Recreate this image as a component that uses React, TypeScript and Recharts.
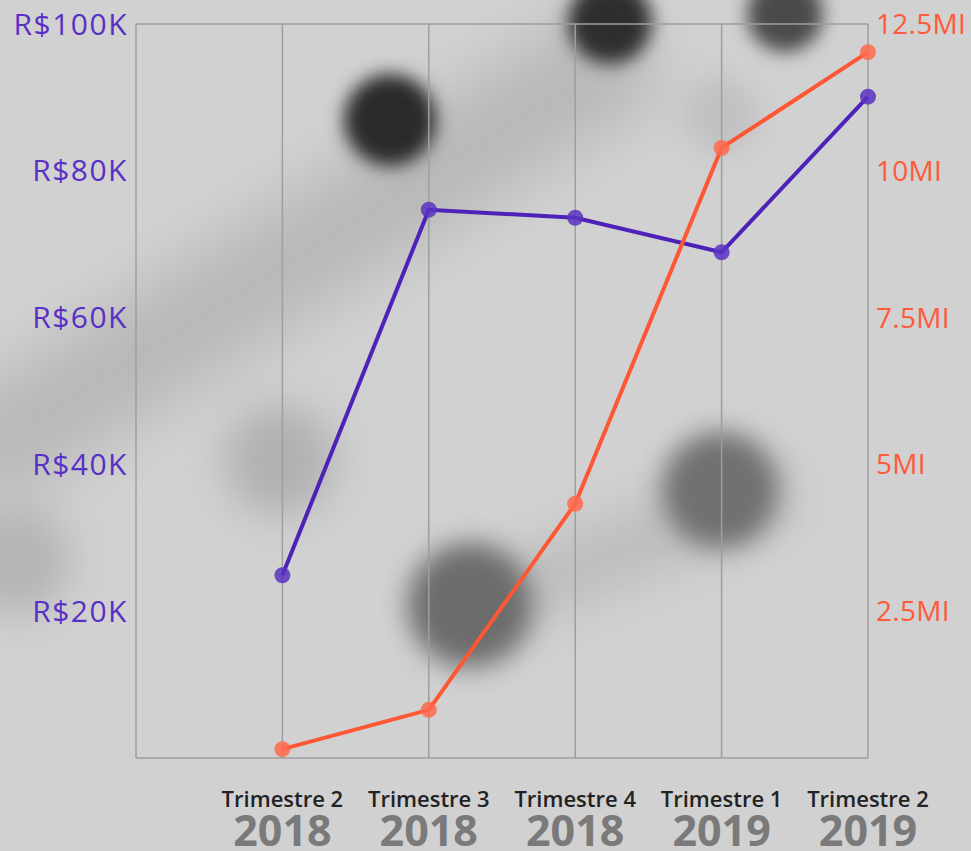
import React from "react";
import { LineChart, Line, XAxis, YAxis, CartesianGrid } from "recharts";

const quarters = ["Trimestre 2", "Trimestre 3", "Trimestre 4", "Trimestre 1", "Trimestre 2"];
const years = ["2018", "2018", "2018", "2019", "2019"];
const revenue = [24900, 74700, 73600, 68900, 90100]; // R$
const volume = [0.15, 0.82, 4.33, 10.39, 12.02]; // MI

const leftTicks = [0, 20000, 40000, 60000, 80000, 100000];
const rightTicks = [0, 2.5, 5, 7.5, 10, 12.5];
const xTicks = [0, 1, 2, 3, 4, 5];

const PURPLE = "#4e22b9";
const ORANGE = "#ff5634";
const FONT = "'Open Sans', 'DejaVu Sans', sans-serif";

const data = quarters.map((q, i) => ({
  x: i + 1,
  quarter: q,
  year: years[i],
  revenue: revenue[i],
  volume: volume[i],
}));

const blobs = [
  { x: 390, y: 120, r: 46, c: "#2a2a2a", b: 9 },
  { x: 610, y: 22, r: 42, c: "#2e2e2e", b: 9 },
  { x: 785, y: 14, r: 38, c: "#4a4a4a", b: 9 },
  { x: 720, y: 490, r: 58, c: "#707070", b: 13 },
  { x: 470, y: 605, r: 62, c: "#6c6c6c", b: 13 },
  { x: 280, y: 460, r: 55, c: "#b0b0b0", b: 20 },
  { x: 15, y: 560, r: 55, c: "#b4b4b4", b: 20 },
  { x: 720, y: 115, r: 38, c: "#c0c0c0", b: 14 },
];

function XTick(props: any) {
  const { x, y, payload } = props;
  const i = payload.value - 1;
  if (i < 0 || i >= quarters.length) return null;
  return (
    <g>
      <text x={x} y={y + 41} textAnchor="middle" fontFamily={FONT} fontSize={22} fontWeight={600} fill="#222">
        {quarters[i]}
      </text>
      <text x={x} y={y + 80} textAnchor="middle" fontFamily={FONT} fontSize={43} fontWeight={700} fill="#7a7a7a">
        {years[i]}
      </text>
    </g>
  );
}

const fmtLeft = (v: number) => (v === 0 ? "" : `R$${v / 1000}K`);
const fmtRight = (v: number) => (v === 0 ? "" : `${v}MI`);

export default function App() {
  return (
    <div
      style={{
        position: "fixed",
        left: 0,
        top: 0,
        width: 971,
        height: 851,
        overflow: "hidden",
        background: "#d1d1d1",
      }}
    >
      <div
        style={{
          position: "absolute",
          left: -100,
          top: 200,
          width: 800,
          height: 110,
          background: "#b8b8b8",
          filter: "blur(30px)",
          transform: "rotate(-32deg)",
        }}
      />
      <div
        style={{
          position: "absolute",
          left: 420,
          top: 520,
          width: 380,
          height: 70,
          background: "#bdbdbd",
          filter: "blur(25px)",
          transform: "rotate(-22deg)",
        }}
      />
      {blobs.map((b, i) => (
        <div
          key={i}
          style={{
            position: "absolute",
            left: b.x - b.r,
            top: b.y - b.r,
            width: b.r * 2,
            height: b.r * 2,
            borderRadius: "50%",
            background: b.c,
            filter: `blur(${b.b}px)`,
          }}
        />
      ))}
      <div style={{ position: "absolute", left: 0, top: 0 }}>
        <LineChart width={971} height={851} data={data} margin={{ top: 24, right: 0, bottom: 0, left: 0 }}>
          <CartesianGrid stroke="#9e9e9e" strokeWidth={1.5} />
          <XAxis
            dataKey="x"
            type="number"
            domain={[0, 5]}
            ticks={xTicks}
            axisLine={false}
            tickLine={false}
            height={93}
            tick={<XTick />}
            interval={0}
          />
          <YAxis
            yAxisId="left"
            orientation="left"
            domain={[0, 100000]}
            ticks={leftTicks}
            tickFormatter={fmtLeft}
            width={136}
            axisLine={false}
            tickLine={false}
            tickMargin={2}
            tick={{ fill: "#5a2fc6", fontSize: 30, fontFamily: FONT, fontWeight: 400, letterSpacing: 1.5 }}
          />
          <YAxis
            yAxisId="right"
            orientation="right"
            domain={[0, 12.5]}
            ticks={rightTicks}
            tickFormatter={fmtRight}
            width={103}
            axisLine={false}
            tickLine={false}
            tickMargin={2}
            tick={{ fill: "#ff5a3a", fontSize: 28, fontFamily: FONT, fontWeight: 400, letterSpacing: 0.3 }}
          />
          <Line
            yAxisId="left"
            dataKey="revenue"
            stroke={PURPLE}
            strokeWidth={4}
            dot={{ r: 8, fill: "#5a33c2", fillOpacity: 0.85, stroke: "none" }}
            isAnimationActive={false}
          />
          <Line
            yAxisId="right"
            dataKey="volume"
            stroke={ORANGE}
            strokeWidth={4}
            dot={{ r: 8, fill: "#ff6a4c", fillOpacity: 0.85, stroke: "none" }}
            isAnimationActive={false}
          />
        </LineChart>
      </div>
    </div>
  );
}
